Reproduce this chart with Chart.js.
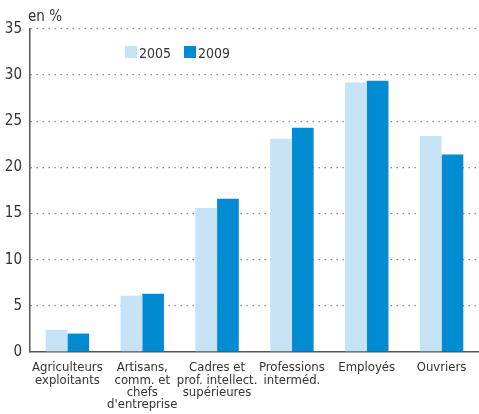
<!DOCTYPE html>
<html>
<head>
<meta charset="utf-8">
<script src="https://cdn.jsdelivr.net/npm/chart.js@4/dist/chart.umd.min.js"></script>
<style>
  html, body { margin: 0; padding: 0; background: #fff; }
  #wrap { width: 479px; height: 414px; }
</style>
</head>
<body>
<div id="wrap"><canvas id="chart"></canvas></div>
<script>
const categories = [
  ["Agriculteurs", "exploitants"],
  ["Artisans,", "comm. et", "chefs", "d'entreprise"],
  ["Cadres et", "prof. intellect.", "supérieures"],
  ["Professions", "interméd."],
  ["Employés"],
  ["Ouvriers"],
];
const values2005 = [2.4, 6.1, 15.6, 23.1, 29.2, 23.4];
const values2009 = [2.0, 6.3, 16.6, 24.3, 29.4, 21.4];
const yTicks = [0, 5, 10, 15, 20, 25, 30, 35];

const FONT = "'DejaVu Sans Condensed', 'Liberation Sans', sans-serif";
const TEXT = "#333";

const overlay = {
  id: "overlay",
  afterDraw(chart) {
    const c = chart.ctx;
    c.save();
    c.fillStyle = TEXT;
    c.font = "15px " + FONT;
    c.textBaseline = "alphabetic";
    c.textAlign = "left";
    c.fillText("en %", 28, 21);
    // legend
    const xs = [125, 184];
    chart.data.datasets.forEach((ds, i) => {
      c.fillStyle = ds.backgroundColor;
      c.fillRect(xs[i], 46, 12, 12);
      c.fillStyle = TEXT;
      c.font = "14px " + FONT;
      c.fillText(ds.label, xs[i] + 14, 58);
    });
    c.restore();
  },
};

new Chart(document.getElementById("chart"), {
  type: "bar",
  data: {
    labels: categories,
    datasets: [
      { label: "2005", data: values2005, backgroundColor: "#c6e3f5" },
      { label: "2009", data: values2009, backgroundColor: "#008bd2" },
    ],
  },
  options: {
    responsive: true,
    maintainAspectRatio: false,
    animation: false,
    layout: { padding: { top: 29, right: 0, left: 0, bottom: 0 } },
    plugins: { legend: { display: false }, tooltip: { enabled: false } },
    datasets: { bar: { categoryPercentage: 0.58, barPercentage: 1 } },
    scales: {
      x: {
        grid: { display: false },
        border: { display: true, color: "#555", width: 1.5 },
        ticks: {
          color: TEXT,
          font: { family: FONT, size: 13, lineHeight: 0.93 },
          maxRotation: 0,
          autoSkip: false,
          padding: 2,
        },
        afterFit(scale) { scale.height = 62; },
      },
      y: {
        min: 0,
        max: 35,
        afterBuildTicks(scale) { scale.ticks = yTicks.map(v => ({ value: v })); },
        grid: {
          drawTicks: false,
          color: ctx => (ctx.tick && ctx.tick.value === 0 ? "rgba(0,0,0,0)" : "#888"),
          lineWidth: 1.3,
        },
        border: { display: true, color: "#555", width: 1.5, dash: [1.5, 4.5] },
        ticks: {
          color: TEXT,
          font: { family: FONT, size: 15 },
          padding: 8,
        },
        afterFit(scale) { scale.width = 30; },
      },
    },
  },
  plugins: [overlay],
});
</script>
</body>
</html>
